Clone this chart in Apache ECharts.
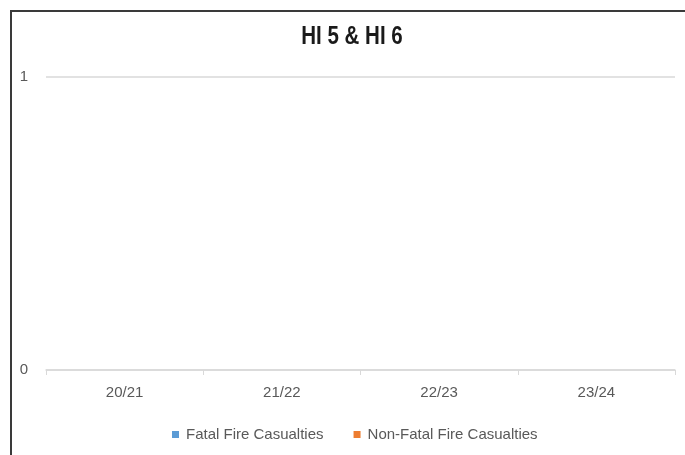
<!DOCTYPE html>
<html>
<head>
<meta charset="utf-8">
<script src="https://cdn.jsdelivr.net/npm/echarts@6/dist/echarts.min.js"></script>
<style>
html,body{margin:0;padding:0;background:#fff;}
#frame{position:absolute;left:10px;top:10px;width:675px;height:445px;border-left:2px solid #3a3a3a;border-top:2px solid #3a3a3a;box-sizing:border-box;}
#chart{position:absolute;left:0;top:0;width:685px;height:455px;}
</style>
</head>
<body>
<div id="frame"></div>
<div id="chart"></div>
<script>
const titleText = "HI 5 & HI 6";
const categories = ["20/21", "21/22", "22/23", "23/24"];
const fatalFireCasualties = [0, 0, 0, 0];
const nonFatalFireCasualties = [0, 0, 0, 0];
const seriesNames = ["Fatal Fire Casualties", "Non-Fatal Fire Casualties"];
const yTicks = [0, 1];

const chart = echarts.init(document.getElementById('chart'), null, {renderer: 'canvas'});
chart.setOption({
  backgroundColor: 'transparent',
  animation: false,
  graphic: [{
    type: 'text',
    x: 352, y: 37,
    scaleX: 0.82,
    style: {
      text: titleText,
      fontFamily: '"Liberation Sans", Arial, sans-serif',
      fontSize: 25,
      fontWeight: 'bold',
      fill: '#1a1a1a',
      align: 'center',
      verticalAlign: 'middle'
    }
  }],
  legend: {
    data: seriesNames,
    left: 172, top: 427,
    padding: 0,
    itemWidth: 7, itemHeight: 7, itemGap: 30,
    icon: 'rect',
    textStyle: {fontFamily: '"Liberation Sans", sans-serif', fontSize: 15, color: '#595959', padding: [0,0,0,2]}
  },
  grid: {left: 46, right: 10, top: 77, bottom: 85, containLabel: false},
  xAxis: {
    type: 'category',
    data: categories,
    boundaryGap: true,
    axisLine: {lineStyle: {color: '#d9d9d9', width: 1.5}},
    axisTick: {show: true, length: 5, lineStyle: {color: '#d9d9d9'}},
    axisLabel: {margin: 15, fontFamily: '"Liberation Sans", sans-serif', fontSize: 15, color: '#595959'}
  },
  yAxis: {
    type: 'value',
    min: yTicks[0], max: yTicks[yTicks.length - 1], interval: 1,
    axisLine: {show: false},
    axisTick: {show: false},
    axisLabel: {margin: 18, fontFamily: '"Liberation Sans", sans-serif', fontSize: 15, color: '#595959'},
    splitLine: {lineStyle: {color: '#d9d9d9', width: 1.5}}
  },
  series: [
    {name: seriesNames[0], type: 'bar', data: fatalFireCasualties, itemStyle: {color: '#5B9BD5'}},
    {name: seriesNames[1], type: 'bar', data: nonFatalFireCasualties, itemStyle: {color: '#ED7D31'}}
  ]
});
</script>
</body>
</html>
